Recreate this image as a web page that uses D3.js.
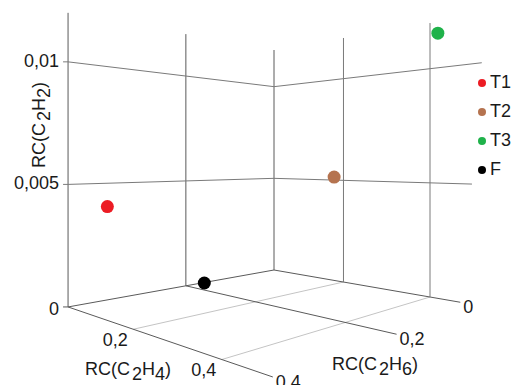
<!DOCTYPE html>
<html>
<head>
<meta charset="utf-8">
<script src="https://cdn.jsdelivr.net/npm/d3@7"></script>
<style>
  html, body { margin: 0; padding: 0; background: #fff; }
  svg { display: block; }
  text { font-family: "Liberation Sans", Arial, sans-serif; font-size: 18px; fill: #1a1a1a; }
</style>
</head>
<body>
<svg id="chart" width="512" height="385"></svg>
<script>
// ---------- data ----------
const seriesNames = ["T1", "T2", "T3", "F"];
const rcC2H4 = [0.0, 0.226, 0.416, 0.004];
const rcC2H6 = [0.34, 0.05, 0.0, 0.165];
const rcC2H2 = [0.0040, 0.0052, 0.0115, 0.0];
const seriesColors = ["#ec1c24", "#b5734f", "#1fb24a", "#000000"];

const c2h4Ticks = [0.2, 0.4];
const c2h4TickLabels = ["0,2", "0,4"];
const c2h6Ticks = [0, 0.2, 0.4];
const c2h6TickLabels = ["0", "0,2", "0,4"];
const c2h2Ticks = [0, 0.005, 0.01];
const c2h2TickLabels = ["0", "0,005", "0,01"];

// ---------- scales (data -> unit cube) ----------
const sx = d3.scaleLinear().domain([0, 0.4]).range([0, 1]);     // C2H4
const sy = d3.scaleLinear().domain([0, 0.4]).range([0, 1]);     // C2H6
const sz = d3.scaleLinear().domain([0, 0.012]).range([0, 1]);   // C2H2

// perspective camera (vertical lines stay vertical)
function proj(X, Y, Z) {
  const den = 1 - 0.197 * X - 0.252 * Y;
  return [(274 + 71.3 * X - 223.1 * Y) / den,
          (270 - 31.5 * X - 40.4 * Y - 220 * Z) / den];
}
const P = (a, b, c) => proj(sx(a), sy(b), sz(c));

const svg = d3.select("#chart");
const g = svg.append("g");
const line = d3.line();
function seg(p1, p2, color, w) {
  g.append("path").attr("d", line([p1, p2]))
    .attr("fill", "none").attr("stroke", color).attr("stroke-width", w || 1);
}
const DARK = "#5a5a5a", MID = "#7a7a7a", LIGHT = "#c4c4c4";
const zTop = sz.domain()[1];
const c2h4Max = sx.domain()[1], c2h6Max = sy.domain()[1];

// floor: lines of constant C2H4 (light), except the back edge
c2h4Ticks.forEach(v => seg(P(v, 0, 0), P(v, c2h6Max, 0), LIGHT));
// floor: lines of constant C2H6 (dark), extended as ticks
const c2h6Ext = [0.46, 0.493, 0.49];
c2h6Ticks.forEach((v, i) => seg(P(0, v, 0), P(c2h6Ext[i], v, 0), DARK));
// back-left floor edge (C2H4 = 0)
seg(P(0, 0, 0), P(0, c2h6Max, 0), DARK);

// left wall verticals (C2H4 = 0)
c2h6Ticks.forEach(v => seg(P(0, v, 0), P(0, v, zTop), DARK));
// right wall verticals (C2H6 = 0)
c2h4Ticks.forEach(v => seg(P(v, 0, 0), P(v, 0, zTop), MID));

// horizontal z grid lines
const zExt = [0, 0.482, 0.5];
c2h2Ticks.forEach((v, i) => {
  if (v === 0) return;
  const pl = P(0, c2h6Max, v);
  seg([pl[0] - 5, pl[1]], pl, MID);
  seg(pl, P(0, 0, v), MID);
  seg(P(0, 0, v), P(zExt[i], 0, v), MID);
});
{ const p0 = P(0, c2h6Max, 0); seg([p0[0] - 5, p0[1]], p0, DARK); }

// z tick labels
c2h2Ticks.forEach((v, i) => {
  const p = P(0, c2h6Max, v);
  g.append("text").attr("x", 59).attr("y", p[1] + (v === 0 ? 3 : 0))
    .attr("text-anchor", "end").attr("dominant-baseline", "middle")
    .text(c2h2TickLabels[i]);
});
// C2H4 tick labels (along left-front floor edge)
c2h4Ticks.forEach((v, i) => {
  const p = P(v, c2h6Max, 0);
  g.append("text").attr("x", p[0] - 18).attr("y", p[1] + 12)
    .attr("text-anchor", "middle").attr("dominant-baseline", "middle")
    .text(c2h4TickLabels[i]);
});
// C2H6 tick labels (at tick ends)
c2h6Ticks.forEach((v, i) => {
  const p = P(c2h6Ext[i], v, 0);
  g.append("text").attr("x", p[0] + 3).attr("y", p[1] + 6)
    .attr("text-anchor", "start").attr("dominant-baseline", "middle")
    .text(c2h6TickLabels[i]);
});

// axis titles with subscripts
function title(sel, sub) {
  sel.append("tspan").text("RC(C");
  sel.append("tspan").attr("dx", 2).attr("dy", 5).text("2");
  sel.append("tspan").attr("dy", -5).text("H");
  sel.append("tspan").attr("dy", 5).text(sub);
  sel.append("tspan").attr("dy", -5).text(")");
}
title(g.append("text").attr("x", 85).attr("y", 375), "4");
title(g.append("text").attr("x", 332).attr("y", 370), "6");
title(g.append("text").attr("transform", "translate(45,168) rotate(-90)"), "2");

// data points
seriesNames.forEach((n, i) => {
  const p = P(rcC2H4[i], rcC2H6[i], rcC2H2[i]);
  g.append("circle").attr("cx", p[0]).attr("cy", p[1]).attr("r", 6.5)
    .attr("fill", seriesColors[i]);
});

// legend
const ly = d3.scalePoint().domain(seriesNames).range([83, 170]);
seriesNames.forEach((n, i) => {
  g.append("circle").attr("cx", 482).attr("cy", ly(n)).attr("r", 4)
    .attr("fill", seriesColors[i]);
  g.append("text").attr("x", 490).attr("y", ly(n))
    .attr("dominant-baseline", "middle").text(n);
});
</script>
</body>
</html>
